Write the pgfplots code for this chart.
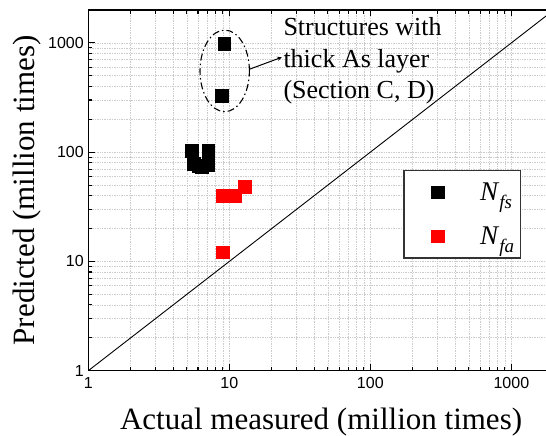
\documentclass[border=0pt]{standalone}
\usepackage{fontspec}
\setmainfont{Liberation Serif}
\newfontfamily\arial{Liberation Sans}
\usepackage{pgfplots}
\pgfplotsset{compat=1.18}

\begin{document}
\begin{tikzpicture}
\begin{axis}[
  scale only axis,
  width=465.5pt, height=360.7pt,
  xmode=log, ymode=log,
  xmin=1, xmax=2000, ymin=1, ymax=2000,
  xtick={1,10,100,1000}, ytick={1,10,100,1000},
  log ticks with fixed point,
  /pgf/number format/1000 sep={},
  /pgf/number format/assume math mode=true,
  ticklabel style={font=\arial\fontsize{16}{16}\selectfont},
  xticklabel style={yshift=-3pt},
  yticklabel style={xshift=-1pt},
  tick align=inside,
  major tick length=6.5pt, minor tick length=4pt,
  every tick/.style={black, line width=1.1pt},
  axis line style={line width=1.2pt},
  grid=both,
  major grid style={gray!40, line width=0.7pt, densely dotted},
  minor grid style={gray!40, line width=0.7pt, densely dotted},
  xlabel={Actual measured (million times)},
  ylabel={Predicted (million times)},
  label style={font=\fontsize{31}{31}\selectfont},
  xlabel style={at={(axis description cs:0.5,0)}, anchor=base, yshift=-59pt},
  ylabel style={at={(axis description cs:0,0.5)}, anchor=base, yshift=53.3pt},
  legend style={
    at={(0.6767,0.5564)}, anchor=north west,
    draw=black!80, line width=1.2pt,
    font=\fontsize{27}{30}\selectfont,
    inner xsep=6.6pt, inner ysep=12pt,
    nodes={inner sep=0pt},
    column sep=36pt, row sep=25pt,
  },
  legend image code/.code={
    \path (-26.7pt,0pt);
    \draw[#1, line width=0.5pt] plot coordinates {(0pt,0pt)};
  },
  legend cell align=left,
]
% identity line: predicted = measured
\addplot[black, line width=0.9pt, forget plot] coordinates {(1,1) (2000,2000)};

% N_fs
\addplot[only marks, mark=square*, mark size=6.3pt, black] coordinates {
  (9.2,981) (8.83,328)
  (5.41,103) (7.1,103)
  (5.6,78) (6.0,75.5) (6.4,73.5) (7.1,76.5)
};
\addlegendentry{\textit{N}\raisebox{-8.5pt}{\fontsize{19}{19}\selectfont\textit{fs}}}

% N_fa
\addplot[only marks, mark=square*, mark size=6.3pt, red] coordinates {
  (12.9,48) (8.92,40.1) (10,40.1) (10.97,40.1)
  (8.98,12.1)
};
\addlegendentry{\textit{N}\raisebox{-8.5pt}{\fontsize{19}{19}\selectfont\textit{fa}}\rule[-14pt]{0pt}{0pt}}
\end{axis}

% group marker for the thick-As-layer structures
\draw[line width=1.1pt, dash pattern=on 7pt off 3pt on 1.5pt off 3pt]
  (136.4pt,299.8pt) ellipse [x radius=24.7pt, y radius=40.8pt];
\draw[-stealth, line width=1.0pt] (161pt,301.4pt) -- (193.4pt,313.4pt);
\begin{scope}[font=\fontsize{26}{31.5}\selectfont, inner sep=0pt]
  \node[anchor=base west] at (195pt,334.7pt) {Structures with};
  \node[anchor=base west] at (195pt,303.2pt) {thick As layer};
  \node[anchor=base west] at (195pt,271.7pt) {(Section C, D)};
\end{scope}

\pgfresetboundingbox
\path[use as bounding box] (-88.3pt,-65.3pt) rectangle (457.7pt,370.7pt);
\end{tikzpicture}
\end{document}
